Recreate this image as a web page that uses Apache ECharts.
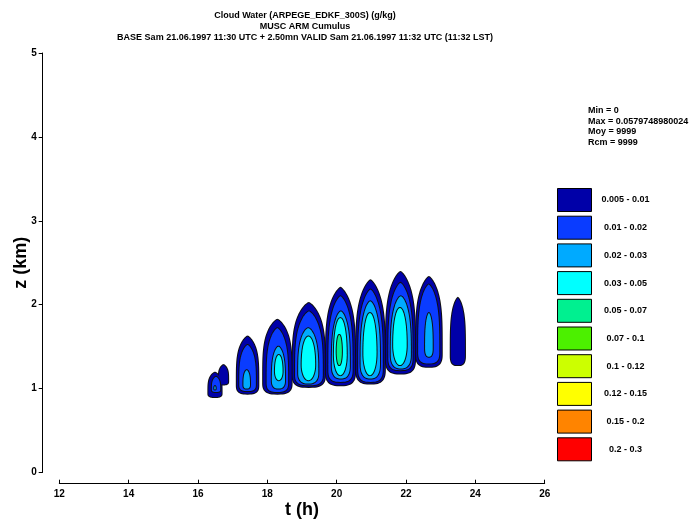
<!DOCTYPE html>
<html>
<head>
<meta charset="utf-8">
<script src="https://cdn.jsdelivr.net/npm/echarts@6/dist/echarts.min.js"></script>
<style>
html,body{margin:0;padding:0;background:#fff;}
#chart{width:691px;height:521px;}
</style>
</head>
<body>
<div id="chart"></div>
<script>
// ---- Data ----
const titleLines = [
  'Cloud Water (ARPEGE_EDKF_300S) (g/kg)',
  'MUSC ARM Cumulus',
  'BASE Sam 21.06.1997 11:30 UTC + 2.50mn VALID Sam 21.06.1997 11:32 UTC (11:32 LST)'
];
const infoLines = ['Min = 0', 'Max = 0.0579748980024', 'Moy = 9999', 'Rcm = 9999'];
const xTicks = [12, 14, 16, 18, 20, 22, 24, 26];
const yTicks = [0, 1, 2, 3, 4, 5];
const levelNames = ['0.005 - 0.01', '0.01 - 0.02', '0.02 - 0.03', '0.03 - 0.05', '0.05 - 0.07',
                    '0.07 - 0.1', '0.1 - 0.12', '0.12 - 0.15', '0.15 - 0.2', '0.2 - 0.3'];
const levelColors = ['#0000a8', '#0a3cff', '#00aaff', '#00ffff', '#00f090',
                     '#4cf000', '#ccff00', '#ffff00', '#ff8400', '#ff0000'];
// contour regions per level: [t start (h), t end (h), z bottom (km), z top (km)]
const level1 = [
  [16.30, 16.68, 0.90, 1.19], [16.60, 16.87, 1.05, 1.28],
  [17.12, 17.74, 0.94, 1.62], [17.88, 18.70, 0.94, 1.82],
  [18.73, 19.66, 1.02, 2.02], [19.69, 20.53, 1.04, 2.20],
  [20.56, 21.39, 1.06, 2.29], [21.42, 22.26, 1.18, 2.39],
  [22.29, 23.03, 1.26, 2.33], [23.29, 23.70, 1.28, 2.08]
];
const level2 = [
  [16.40, 16.64, 0.96, 1.14], [17.19, 17.67, 0.97, 1.52],
  [17.98, 18.60, 0.96, 1.72], [18.80, 19.60, 1.04, 1.92],
  [19.76, 20.46, 1.08, 2.10], [20.62, 21.33, 1.08, 2.18],
  [21.49, 22.19, 1.22, 2.26], [22.35, 22.96, 1.30, 2.24]
];
const level3 = [
  [16.47, 16.51, 0.99, 1.03], [17.31, 17.50, 1.00, 1.22],
  [18.13, 18.51, 1.00, 1.50], [18.89, 19.47, 1.06, 1.72],
  [19.86, 20.38, 1.12, 1.92], [20.69, 21.25, 1.12, 2.04],
  [21.56, 22.14, 1.24, 2.10], [22.55, 22.77, 1.38, 1.90]
];
const level4 = [
  [18.22, 18.44, 1.10, 1.40], [18.99, 19.38, 1.10, 1.62],
  [19.92, 20.29, 1.16, 1.84], [20.77, 21.15, 1.16, 1.90],
  [21.63, 22.02, 1.28, 1.96]
];
const level5 = [
  [20.00, 20.15, 1.28, 1.64]
];
const levelData = [level1, level2, level3, level4, level5, [], [], [], [], []];

// ---- Shape style (not data) ----
const widestFrac = [0.15, 0.15, 0.2, 0.35, 0.45, 0.4, 0.4, 0.4, 0.4, 0.4];
const topPow = [4.0, 3.5, 3.0, 2.2, 2.0, 2, 2, 2, 2, 2];
const topRoot = [1.3, 1.4, 1.6, 2.0, 2.0, 2, 2, 2, 2, 2];
const botPow = [3.0, 3.0, 2.6, 2.0, 2.0, 2, 2, 2, 2, 2];

function halfWidthFactor(s, L) {
  const f = widestFrac[L];
  if (s < f) {
    const u = (f - s) / f;
    return Math.pow(Math.max(0, 1 - Math.pow(u, botPow[L])), 1 / botPow[L]);
  }
  const u = (s - f) / (1 - f);
  return Math.pow(Math.max(0, 1 - Math.pow(u, topPow[L])), 1 / topRoot[L]);
}

function makeRender(level, outline) {
  return function (params, api) {
    const t0 = api.value(0), t1 = api.value(1), zb = api.value(2), zt = api.value(3);
    const c = (t0 + t1) / 2, w = (t1 - t0) / 2;
    const N = 60;
    const left = [], right = [];
    for (let i = 0; i <= N; i++) {
      const s = (1 - Math.cos(Math.PI * i / N)) / 2;
      const z = zb + s * (zt - zb);
      const hw = w * halfWidthFactor(s, level);
      left.push(api.coord([c - hw, z]));
      right.push(api.coord([c + hw, z]));
    }
    const pts = left.concat(right.reverse());
    return {
      type: 'polygon',
      shape: { points: pts },
      style: outline
        ? { fill: '#101010', stroke: '#101010', lineWidth: 2 }
        : { fill: levelColors[level], stroke: null }
    };
  };
}

const series = [];
levelNames.forEach((name, i) => {
  series.push({
    type: 'custom', name: '_o' + i, silent: true,
    renderItem: makeRender(i, true),
    encode: { x: [0, 1], y: [2, 3] },
    data: levelData[i], z: 2
  });
  series.push({
    type: 'custom', name: name, silent: true,
    itemStyle: { color: levelColors[i] },
    renderItem: makeRender(i, false),
    encode: { x: [0, 1], y: [2, 3] },
    data: levelData[i], z: 2
  });
});

const chart = echarts.init(document.getElementById('chart'), null, { renderer: 'canvas' });
chart.setOption({
  backgroundColor: '#fff',
  animation: false,
  title: {
    text: titleLines.join('\n'),
    left: 300, top: 5, textAlign: 'center',
    textStyle: { fontFamily: 'Liberation Sans', fontSize: 9, fontWeight: 'bold', color: '#000', lineHeight: 11 }
  },
  graphic: [{
    type: 'text', left: 588, top: 105,
    style: { text: infoLines.join('\n'), font: 'bold 9px "Liberation Sans"', fill: '#000', lineHeight: 10.7 }
  }],
  legend: {
    data: levelNames,
    orient: 'vertical', left: 552, top: 183,
    itemWidth: 34, itemHeight: 23, itemGap: 3.7,
    icon: 'rect', selectedMode: false,
    itemStyle: { borderColor: '#000', borderWidth: 1 },
    formatter: n => '{a|' + n + '}',
    textStyle: {
      fontFamily: 'Liberation Sans', fontSize: 9, fontWeight: 'bold', color: '#000',
      rich: { a: { width: 58, align: 'center', fontFamily: 'Liberation Sans', fontSize: 9, fontWeight: 'bold', color: '#000' } }
    }
  },
  grid: { left: 59.3, right: 146.3, top: 53, bottom: 48.5, containLabel: false, outerBoundsMode: 'none' },
  xAxis: {
    type: 'value', min: xTicks[0], max: xTicks[xTicks.length - 1], interval: 2,
    offset: 11.2,
    name: 't (h)', nameLocation: 'middle', nameGap: 17, nameMoveOverlap: false,
    nameTextStyle: { fontFamily: 'Liberation Sans', fontSize: 18, fontWeight: 'bold', color: '#000' },
    axisLine: { show: true, onZero: false, lineStyle: { color: '#000', width: 1 } },
    axisTick: { show: true, inside: true, length: 4, lineStyle: { color: '#000' } },
    axisLabel: { margin: 5.5, fontFamily: 'Liberation Sans', fontSize: 10, fontWeight: 'bold', color: '#000' },
    splitLine: { show: false }
  },
  yAxis: {
    type: 'value', min: yTicks[0], max: yTicks[yTicks.length - 1], interval: 1,
    offset: 16.6,
    name: 'z (km)', nameLocation: 'middle', nameGap: 13, nameRotate: 90, nameMoveOverlap: false,
    nameTextStyle: { fontFamily: 'Liberation Sans', fontSize: 18, fontWeight: 'bold', color: '#000' },
    axisLine: { show: true, onZero: false, lineStyle: { color: '#000', width: 1 } },
    axisTick: { show: true, inside: false, length: 4, lineStyle: { color: '#000' } },
    axisLabel: { margin: 6, fontFamily: 'Liberation Sans', fontSize: 10, fontWeight: 'bold', color: '#000' },
    splitLine: { show: false }
  },
  series: series
});
</script>
</body>
</html>
